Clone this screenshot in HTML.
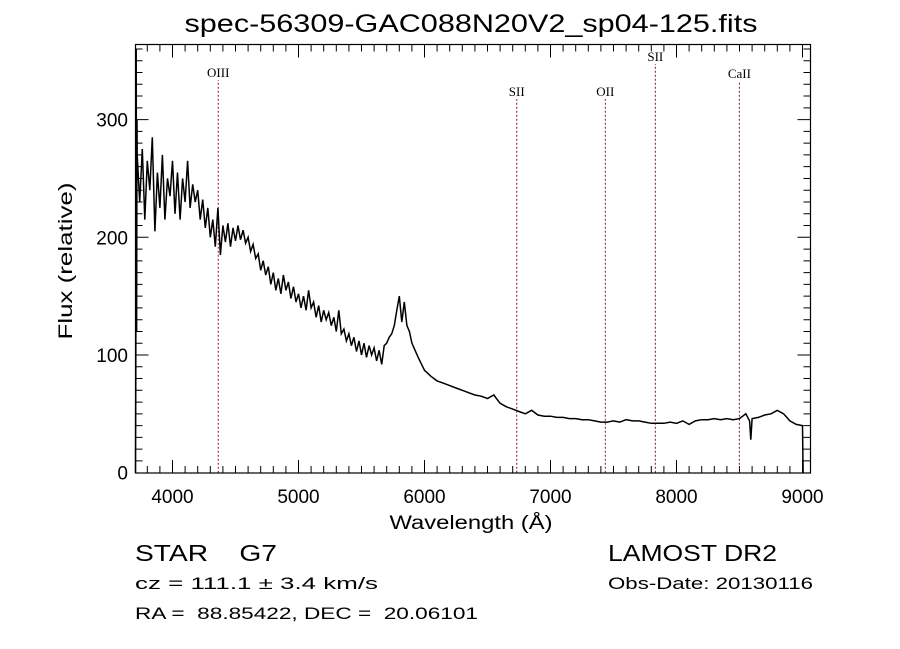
<!DOCTYPE html>
<html><head><meta charset="utf-8"><style>
html,body{margin:0;padding:0;background:#fff;}
svg{display:block;}
text{font-family:"Liberation Sans",sans-serif;fill:#000;white-space:pre;}
</style></head><body>
<svg id="chart" width="900" height="649" xmlns="http://www.w3.org/2000/svg" xml:space="preserve">
<rect width="900" height="649" fill="#fff"/>
<text x="471" y="32" font-size="25" text-anchor="middle" textLength="573" lengthAdjust="spacingAndGlyphs">spec-56309-GAC088N20V2_sp04-125.fits</text>
<g id="axes"></g>
<g id="lines"></g>
<path id="spec" fill="none" stroke="#000" stroke-width="1.5"/>
<rect x="135.5" y="44.5" width="675" height="428.5" fill="none" stroke="#000" stroke-width="1.2"/>
<text x="471" y="529" font-size="19" text-anchor="middle" textLength="163" lengthAdjust="spacingAndGlyphs">Wavelength (Å)</text>
<text transform="translate(72,261) rotate(-90)" font-size="19" text-anchor="middle" textLength="157" lengthAdjust="spacingAndGlyphs">Flux (relative)</text>
<text x="135" y="561" font-size="23" textLength="142" lengthAdjust="spacingAndGlyphs">STAR    G7</text>
<text x="135" y="589" font-size="17" textLength="243" lengthAdjust="spacingAndGlyphs">cz = 111.1 ± 3.4 km/s</text>
<text x="135" y="619" font-size="17" textLength="343" lengthAdjust="spacingAndGlyphs">RA =  88.85422, DEC =  20.06101</text>
<text x="608" y="561" font-size="23" textLength="169" lengthAdjust="spacingAndGlyphs">LAMOST DR2</text>
<text x="608" y="589" font-size="17" textLength="205" lengthAdjust="spacingAndGlyphs">Obs-Date: 20130116</text>
</svg>
<script>
const wavelengths=[3706,3709,3712,3715,3718,3720,3740,3760,3780,3800,3820,3840,3860,3880,3900,3920,3940,3960,3980,4000,4020,4040,4060,4080,4100,4120,4140,4160,4180,4200,
4220,4240,4260,4280,4300,4320,4340,4360,4380,4400,4420,4440,4460,4480,4500,4520,4540,4560,4580,4600,4620,4640,4660,4680,4700,
4720,4740,4760,4780,4800,4820,4840,4860,4880,4900,4920,4940,4960,4980,5000,5020,5040,5060,5080,5100,5120,5140,5160,5180,5200,
5220,5240,5260,5280,5300,5320,5340,5360,5380,5400,5420,5440,5460,5480,5500,5520,5540,5560,5580,5600,5620,5640,5660,5680,5700,
5720,5740,5760,5780,5800,5820,5840,5860,5880,5900,
5950,6000,6050,6100,6150,6200,6250,6300,6350,6400,6450,6500,6550,6600,6650,6700,6750,6800,6850,6900,6950,7000,7050,7100,7150,7200,7250,7300,7350,7400,7450,7500,7550,7600,7650,7700,7750,7800,7850,7900,7950,8000,8050,8100,8150,8200,8250,8300,8350,8400,8450,8500,8550,8580,8590,8600,8650,8700,8750,8800,8850,8900,8950,9000,9005];
const flux=[0,80,360,120,300,270,230,275,215,265,240,285,205,255,225,270,215,250,235,265,220,255,215,250,230,265,225,245,230,240,
215,232,208,225,200,215,192,225,185,210,196,212,192,208,197,210,198,206,195,200,188,194,182,186,172,
180,168,175,160,170,155,165,152,168,155,162,148,158,145,152,140,150,138,155,140,145,132,142,128,138,
130,136,125,132,120,138,118,122,112,118,108,115,103,112,100,110,98,108,100,106,95,104,92,108,110,
115,118,125,138,150,128,145,125,120,110,
98,87,82,78,76,74,72,70,68,66,65,63,66,59,56,54,52,50,53,49,48,48,47,47,46,46,45,45,44,43,43,44,43,45,44,44,43,42,42,42,43,42,44,41,44,45,45,46,45,46,45,46,50,44,28,46,47,49,50,53,50,44,41,40,0];
const xTicks=[4000,5000,6000,7000,8000,9000];
const yTicks=[0,100,200,300];
const lineNames=["OIII","SII","OII","SII","CaII"];
const lineWaves=[4363,6732,7435,7832,8499];
const lineLabelY=[77,96,96,61,78];

const NS="http://www.w3.org/2000/svg";
const L=135.5,R=810.5,T=44.5,B=473;
function xs(w){return 172.5+(w-4000)*0.126;}
function ys(v){return 472.7-v*1.177;}
function mk(tag,attrs,parent){const e=document.createElementNS(NS,tag);for(const k in attrs)e.setAttribute(k,attrs[k]);parent.appendChild(e);return e;}

const axes=document.getElementById('axes');
let d="";
for(let w=3800;w<=9000;w+=100){const x=xs(w);if(x<L||x>R)continue;const len=(w%1000===0)?13:7;d+=`M${x} ${B}V${B-len}M${x} ${T}V${T+len}`;}
for(let v=10;v<=360;v+=10){const y=ys(v);if(y<T)continue;const len=(v%100===0)?13:7;d+=`M${L} ${y}H${L+len}M${R} ${y}H${R-len}`;}
const tk=mk('path',{d:d,stroke:'#000','stroke-width':1,fill:'none'},axes);


xTicks.forEach(w=>{const t=mk('text',{x:xs(w),y:503,'font-size':19,'text-anchor':'middle'},axes);t.textContent=w;

});
yTicks.forEach(v=>{const t=mk('text',{x:128,y:ys(v)+7,'font-size':19,'text-anchor':'end'},axes);t.textContent=v;

});

const lg=document.getElementById('lines');
lineWaves.forEach((w,i)=>{const x=xs(w);
const ln=mk('line',{x1:x,x2:x,y1:ys(0),y2:lineLabelY[i]+3,stroke:'#8b1a1a','stroke-width':1,'stroke-dasharray':'2,2'},lg);


const t=mk('text',{x:x,y:lineLabelY[i],'font-size':13,'text-anchor':'middle'},lg);
t.setAttribute('style','font-family:"Liberation Serif",serif');
t.textContent=lineNames[i];

});

let p="";
wavelengths.forEach((w,i)=>{p+=(i?"L":"M")+xs(w).toFixed(1)+" "+ys(flux[i]).toFixed(1);});
document.getElementById('spec').setAttribute('d',p);
</script>
</body></html>
